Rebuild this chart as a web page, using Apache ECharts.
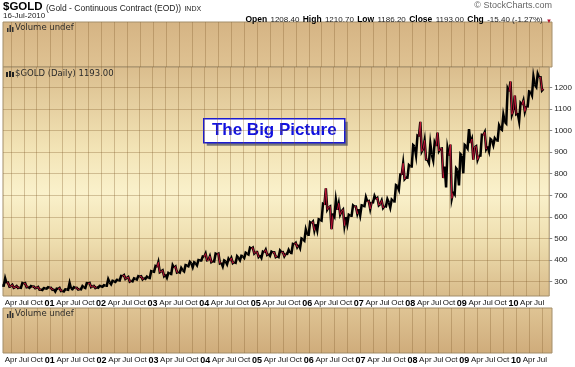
<!DOCTYPE html>
<html><head><meta charset="utf-8">
<script src="https://cdn.jsdelivr.net/npm/echarts@6/dist/echarts.min.js"></script>
<style>html,body{margin:0;padding:0;background:#fff}#c{width:575px;height:367px}</style>
</head><body><div id="c"></div>
<script>
// ---------- DATA (monthly OHLC) ----------
const months = [
 '2000-02','2000-03','2000-04','2000-05','2000-06','2000-07','2000-08','2000-09','2000-10','2000-11','2000-12',
 '2001-01','2001-02','2001-03','2001-04','2001-05','2001-06','2001-07','2001-08','2001-09','2001-10','2001-11','2001-12',
 '2002-01','2002-02','2002-03','2002-04','2002-05','2002-06','2002-07','2002-08','2002-09','2002-10','2002-11','2002-12',
 '2003-01','2003-02','2003-03','2003-04','2003-05','2003-06','2003-07','2003-08','2003-09','2003-10','2003-11','2003-12',
 '2004-01','2004-02','2004-03','2004-04','2004-05','2004-06','2004-07','2004-08','2004-09','2004-10','2004-11','2004-12',
 '2005-01','2005-02','2005-03','2005-04','2005-05','2005-06','2005-07','2005-08','2005-09','2005-10','2005-11','2005-12',
 '2006-01','2006-02','2006-03','2006-04','2006-05','2006-06','2006-07','2006-08','2006-09','2006-10','2006-11','2006-12',
 '2007-01','2007-02','2007-03','2007-04','2007-05','2007-06','2007-07','2007-08','2007-09','2007-10','2007-11','2007-12',
 '2008-01','2008-02','2008-03','2008-04','2008-05','2008-06','2008-07','2008-08','2008-09','2008-10','2008-11','2008-12',
 '2009-01','2009-02','2009-03','2009-04','2009-05','2009-06','2009-07','2009-08','2009-09','2009-10','2009-11','2009-12',
 '2010-01','2010-02','2010-03','2010-04','2010-05','2010-06','2010-07'
];
const openP = [
 283,293,280,275,273,290,276,277,273,264,270,
 271,265,266,258,264,267,271,266,274,291,279,275,
 279,282,297,302,308,326,318,305,313,323,318,318,
 347,367,348,334,337,364,346,354,375,385,386,398,
 415,400,396,427,388,394,396,391,410,418,430,453,
 438,423,435,429,435,418,436,430,434,473,471,496,
 518,570,566,586,656,645,616,633,626,600,606,647,
 636,652,671,669,682,660,651,667,673,743,795,783,
 834,926,972,916,865,888,928,916,833,884,717,817,
 884,927,942,922,883,978,927,954,955,1008,1040,1181,
 1096,1081,1118,1113,1179,1212,1245
];
const highP = [
 316,296,286,280,294,293,280,278,276,271,275,
 272,268,271,265,294,275,272,280,294,294,281,281,
 284,312,304,309,327,331,322,316,326,325,324,349,
 372,390,353,341,376,370,364,377,392,390,400,417,
 430,418,430,430,398,406,410,418,420,434,457,458,
 438,439,448,439,436,444,437,447,475,480,500,541,
 575,578,589,660,732,649,679,663,634,610,653,648,
 654,691,674,697,688,676,682,680,747,796,848,840,
 932,976,1040,954,939,944,990,917,918,935,825,891,
 933,1007,960,927,980,992,960,964,1023,1072,1195,1227,
 1162,1127,1139,1181,1249,1262,1246
];
const lowP = [
 282,277,272,271,272,275,272,270,263,262,268,
 263,255,257,255,263,265,264,265,271,275,271,272,
 277,282,288,299,306,313,301,302,310,311,314,317,
 346,344,326,319,336,343,342,348,372,367,376,398,
 399,391,394,385,371,381,386,388,399,410,426,431,
 415,411,424,420,414,414,418,429,433,460,456,490,
 518,538,538,583,634,543,603,611,560,567,606,614,
 607,650,637,668,654,642,649,643,672,726,775,782,
 834,885,903,866,850,862,905,780,737,686,706,746,
 802,917,865,865,884,914,904,932,954,1003,1033,1075,
 1076,1044,1088,1112,1163,1202,1186
];
const closeP = [
 293,279,275,274,290,277,277,273,264,270,273,
 265,267,258,264,268,271,266,274,293,279,275,279,
 282,297,302,308,326,318,305,313,323,318,318,347,
 367,348,334,337,364,346,354,375,385,386,398,415,
 400,396,427,388,394,396,391,410,418,430,453,438,
 423,435,429,435,418,436,430,434,473,471,496,518,
 570,566,586,656,645,616,633,626,600,606,647,636,
 652,671,669,682,660,651,667,673,743,795,783,834,
 926,972,916,865,888,928,916,833,884,717,817,884,
 927,942,922,883,978,927,954,955,1008,1040,1181,1096,
 1081,1118,1113,1179,1212,1245,1193
];
const priceTicks = [300,400,500,600,700,800,900,1000,1100,1200];
const years = [2000,2001,2002,2003,2004,2005,2006,2007,2008,2009,2010];
const quarterNames = ['Jan','Apr','Jul','Oct'];

// ---------- BUILD ----------
const X_MIN = 2000.097, X_MAX = 2010.695;
const Y_MIN = 234, Y_MAX = 1294;
const monthX = m => { const [y, mo] = m.split('-').map(Number); return y + (mo - 1) / 12 + 0.5 / 12; };
const ohlc = months.map((m, i) => [monthX(m), openP[i], closeP[i], lowP[i], highP[i]]);

const qVals = [], qLab = {};
years.forEach(y => quarterNames.forEach((n, q) => {
  const v = y + q / 4;
  if (v > X_MIN && v < X_MAX) { qVals.push(v); qLab[v.toFixed(2)] = q === 0 ? '{y|' + String(y).slice(2) + '}' : '{m|' + n + '}'; }
}));

const FONT = 'Liberation Sans, Arial, sans-serif';
const NARROW = 'Liberation Sans Narrow, Liberation Sans, Arial, sans-serif';
const gridLineColor = 'rgba(130,95,45,0.33)';
const LG = echarts.graphic.LinearGradient;

const xAxisBase = (gi, showLabel) => ({
  type: 'value', gridIndex: gi, min: X_MIN, max: X_MAX,
  axisLine: { show: false },
  axisTick: { show: false, customValues: qVals },
  splitLine: { show: true, lineStyle: { color: gridLineColor, width: 1 } },
  axisLabel: {
    show: showLabel, customValues: qVals, margin: 3,
    formatter: v => qLab[v.toFixed(2)] || '',
    rich: {
      m: { fontFamily: NARROW, fontSize: 8, color: '#111' },
      y: { fontFamily: FONT, fontSize: 9, fontWeight: 'bold', color: '#000' }
    }
  }
});

const option = {
  animation: false,
  grid: [
    { left: 3, right: 23, top: 22, height: 45, show: true, borderColor: '#a38e6a', borderWidth: 1,
      backgroundColor: new LG(0, 0, 0, 1, [{ offset: 0, color: '#d5b484' }, { offset: 1, color: '#dfc292' }]) },
    { left: 3, right: 23, top: 67, height: 229, show: true, borderColor: '#a38e6a', borderWidth: 1,
      backgroundColor: new LG(0, 0, 0, 1, [
        { offset: 0, color: '#dabd8d' }, { offset: 0.35, color: '#f2e3b5' },
        { offset: 0.55, color: '#faf1cb' }, { offset: 0.75, color: '#efdfb0' }, { offset: 1, color: '#d8bb8a' }]) },
    { left: 3, right: 23, top: 308, height: 45, show: true, borderColor: '#a38e6a', borderWidth: 1,
      backgroundColor: new LG(0, 0, 0, 1, [{ offset: 0, color: '#dfc494' }, { offset: 1, color: '#cfac7b' }]) }
  ],
  xAxis: [xAxisBase(0, false), xAxisBase(1, true), xAxisBase(2, true)],
  yAxis: [
    { type: 'value', gridIndex: 0, min: 0, max: 1, show: false },
    { type: 'value', gridIndex: 1, position: 'right', min: Y_MIN, max: Y_MAX,
      axisLine: { show: false },
      axisTick: { show: true, customValues: priceTicks, length: 3, lineStyle: { color: '#888' } },
      axisLabel: { customValues: priceTicks, margin: 5, fontFamily: FONT, fontSize: 8, color: '#222',
                   formatter: v => String(v) },
      splitLine: { show: true, lineStyle: { color: gridLineColor, width: 1 } } },
    { type: 'value', gridIndex: 2, min: 0, max: 1, show: false }
  ],
  series: [{
    type: 'custom', xAxisIndex: 1, yAxisIndex: 1,
    data: ohlc, encode: { x: 0, y: [1, 2, 3, 4] },
    renderItem: (params, api) => {
      const x = api.value(0), o = api.value(1), c = api.value(2), l = api.value(3), h = api.value(4);
      const half = api.size([1 / 12, 0])[0] / 2;
      const down = c < o;
      const pO = api.coord([x, o]), pC = api.coord([x, c]), pL = api.coord([x, l]), pH = api.coord([x, h]);
      const first = down ? pH : pL, second = down ? pL : pH;
      const pts = [[pO[0] - half, pO[1]], [pO[0] - half / 3, first[1]], [pO[0] + half / 3, second[1]], [pO[0] + half, pC[1]]];
      const children = [{ type: 'polyline', shape: { points: pts }, style: { stroke: '#000', lineWidth: 2.5, fill: null } }];
      if (down) children.push({ type: 'polyline', shape: { points: pts }, style: { stroke: '#d0183c', lineWidth: 0.9, fill: null } });
      return { type: 'group', children };
    }
  }],
  graphic: [
    { type: 'text', left: 3, top: 1, style: {
        text: '{a|$GOLD} {b|(Gold - Continuous Contract (EOD))} {c|INDX}',
        rich: { a: { fontFamily: NARROW, fontSize: 11.5, fontWeight: 'bold', fill: '#000', verticalAlign: 'bottom' },
                b: { fontFamily: FONT, fontSize: 8.5, fill: '#222', verticalAlign: 'bottom' },
                c: { fontFamily: FONT, fontSize: 7, fill: '#222', verticalAlign: 'bottom' } } } },
    { type: 'text', left: 3, top: 12, style: { text: '16-Jul-2010', fontFamily: FONT, fontSize: 8, fill: '#222' } },
    { type: 'text', right: 23, top: 1, style: { text: '© StockCharts.com', fontFamily: FONT, fontSize: 9, fill: '#666' } },
    { type: 'text', right: 23, top: 12, style: {
        text: '{k|Open} {v|1208.40} {k|High} {v|1210.70} {k|Low} {v|1186.20} {k|Close} {v|1193.00} {k|Chg} {v|-15.40 (-1.27%)} {r|▼}',
        rich: { k: { fontFamily: FONT, fontSize: 8.5, fontWeight: 'bold', fill: '#000', verticalAlign: 'bottom' },
                v: { fontFamily: FONT, fontSize: 8, fill: '#222', verticalAlign: 'bottom' },
                r: { fontFamily: FONT, fontSize: 6, fill: '#b0102a', verticalAlign: 'bottom' } } } },
    // panel captions
    { type: 'text', left: 15, top: 23, style: { text: 'Volume undef', fontFamily: 'DejaVu Sans', fontSize: 8.5, fill: '#2a2a2a' } },
    { type: 'text', left: 15, top: 69, style: { text: '$GOLD (Daily) 1193.00', fontFamily: 'DejaVu Sans', fontSize: 8.5, fill: '#2a2a2a' } },
    { type: 'text', left: 15, top: 309, style: { text: 'Volume undef', fontFamily: 'DejaVu Sans', fontSize: 8.5, fill: '#2a2a2a' } },
    // icons
    { type: 'group', left: 7, top: 25, children: [
      { type: 'rect', shape: { x: 0, y: 3, width: 1.5, height: 4 }, style: { fill: '#333' } },
      { type: 'rect', shape: { x: 2.5, y: 0, width: 1.5, height: 7 }, style: { fill: '#333' } },
      { type: 'rect', shape: { x: 5, y: 2, width: 1.5, height: 5 }, style: { fill: '#333' } } ] },
    { type: 'group', left: 7, top: 311, children: [
      { type: 'rect', shape: { x: 0, y: 3, width: 1.5, height: 4 }, style: { fill: '#333' } },
      { type: 'rect', shape: { x: 2.5, y: 0, width: 1.5, height: 7 }, style: { fill: '#333' } },
      { type: 'rect', shape: { x: 5, y: 2, width: 1.5, height: 5 }, style: { fill: '#333' } } ] },
    { type: 'group', left: 6, top: 71, children: [
      { type: 'rect', shape: { x: 0, y: 1, width: 2, height: 5 }, style: { fill: '#222' } },
      { type: 'rect', shape: { x: 3, y: 0, width: 2, height: 6 }, style: { fill: '#222' } },
      { type: 'rect', shape: { x: 6, y: 1, width: 2, height: 5 }, style: { fill: '#222' } } ] },
    // The Big Picture box
    { type: 'group', left: 203, top: 118, children: [
      { type: 'rect', shape: { x: 3, y: 3, width: 141, height: 24 }, style: { fill: '#777' } },
      { type: 'rect', shape: { x: 0, y: 0, width: 141, height: 24 }, style: { fill: '#fff', stroke: '#1a1ad0', lineWidth: 1.5 } },
      { type: 'text', x: 70.5, y: 12, style: { text: 'The Big Picture', fontFamily: FONT, fontSize: 17, fontWeight: 'bold',
          fill: '#1010e0', align: 'center', verticalAlign: 'middle' } } ] }
  ]
};
const chart = echarts.init(document.getElementById('c'), null, { renderer: 'canvas' });
chart.setOption(option);
</script></body></html>
